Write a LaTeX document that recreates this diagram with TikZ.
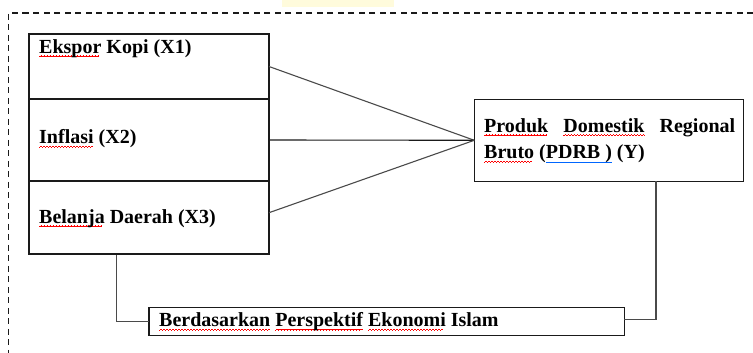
\documentclass[tikz,border=0pt]{standalone}
\usepackage{fontspec}
\setmainfont{Liberation Serif}
\usetikzlibrary{calc}
\newsavebox\sqbox
\newlength\sqlen
\newcommand\wavepiece{\hbox{\rule[-0.9pt]{0.75pt}{0.55pt}\rule[-0.45pt]{0.75pt}{0.55pt}\rule[0pt]{0.75pt}{0.55pt}\rule[-0.45pt]{0.75pt}{0.55pt}}}
\newcommand\sqw[1]{\leavevmode\sbox\sqbox{#1}\setlength\sqlen{\wd\sqbox}\rlap{\raisebox{-2.6pt}{\textcolor{red}{\leaders\wavepiece\hskip\sqlen}}}\usebox\sqbox}
\newcommand\blul[1]{\leavevmode\sbox\sqbox{#1}\setlength\sqlen{\wd\sqbox}\rlap{\textcolor{blue!60!cyan}{\rule[-3.4pt]{\sqlen}{0.8pt}}}\usebox\sqbox}
\definecolor{frame}{HTML}{1A1A1A}
\definecolor{conn}{HTML}{4A4A4A}
\definecolor{blob}{HTML}{FFFBDC}
\tikzset{
  box/.style={draw=frame, line width=1.1pt, inner sep=0pt, outer sep=0pt, minimum width=240pt},
  lbl/.style={anchor=base west, inner sep=0pt, font=\fontsize{20}{26.7}\selectfont\bfseries},
  conline/.style={draw=conn, line width=1.1pt},
  outer/.style={draw=frame, line width=1.5pt, dash pattern=on 6pt off 4.5pt},
}
\begin{document}
\begin{tikzpicture}[x=1pt,y=1pt]
\useasboundingbox (0,0) rectangle (753,353);
\fill[blob] (282,346) rectangle (394,353);
% dashed outer frame (only top and left visible)
\draw[outer] (753,340) -- (8.5,340) -- (8.5,0);
% left boxes
\node[box, minimum height=65pt] (b1) at (149,286.5) {};
\node[box, minimum height=82pt] (b2) at (149,213) {};
\node[box, minimum height=73pt] (b3) at (149,135.5) {};
\node[lbl] (t1) at (39,299.7) {\sqw{Ekspor} Kopi (X1)};
\node[lbl] (t2) at (39,209) {\sqw{Inflasi} (X2)};
\node[lbl] (t3) at (39,129.7) {\sqw{Belanja} Daerah (X3)};
% right box
\node[box, minimum width=269.4pt, minimum height=82pt] (y) at (609,212.7) {};
\node[lbl] (ty) at (484,220.7) {\parbox[t]{251pt}{\fontsize{20}{26.7}\selectfont\bfseries \sqw{Produk} \sqw{Domestik} Regional\linebreak \sqw{Bruto} (\blul{PDRB )} (Y)}};
% bottom box
\node[box, minimum width=475.3pt, minimum height=27.6pt] (isl) at (386.65,31.5) {};
\node[lbl] (ti) at (159,26.3) {\sqw{Berdasarkan} \sqw{Perspektif} \sqw{Ekonomi} Islam};
% connectors
\draw[conline] (b1.east) -- (y.west);
\draw[frame, line width=1.1pt] (b2.east) -- (y.west);
\draw[conline] ($(b3.east)+(0,4.8)$) -- (y.west);
\draw[conline] ($(b3.south west)+(87.7,0)$) |- (isl.west);
\draw[frame, line width=2pt] ($(b3.south west)+(55,0)$) -- ($(b3.south west)+(87.7,0)$);
\draw[conline] ($(y.south west)+(181.7,0)$) |- ($(isl.east)+(0,2.2)$);
\end{tikzpicture}
\end{document}
